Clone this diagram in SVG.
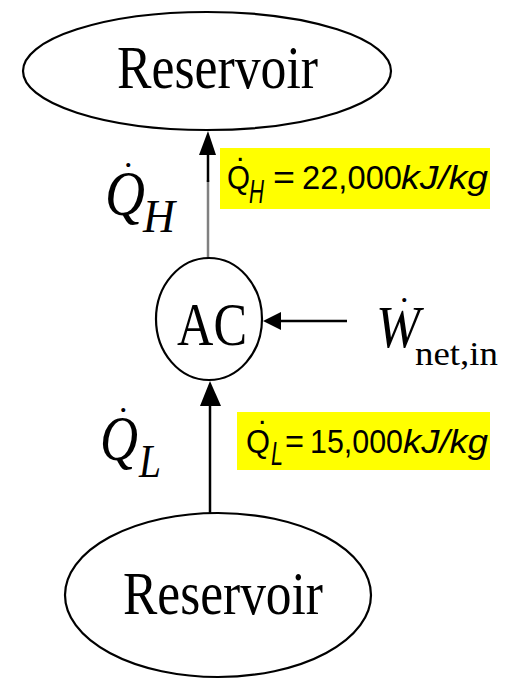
<svg xmlns="http://www.w3.org/2000/svg" width="507" height="679" viewBox="0 0 507 679">
<style>
.node{fill:#fff;stroke:#000;stroke-width:2.2}
.big{font-family:"Liberation Serif",serif;font-size:62px;fill:#000}
.it{font-family:"Liberation Serif",serif;font-style:italic;fill:#000}
.dot{font-family:"Liberation Serif",serif;font-size:34px;fill:#000}
.ar{font-family:"Liberation Sans",Arial,sans-serif;fill:#000;font-size:33px}
.ardot{font-family:"Liberation Sans",Arial,sans-serif;fill:#000;font-size:30px}
.hl{fill:#ffff00}
.ln{stroke:#000;stroke-width:2.5;fill:none}
</style>
<g id="connectors">
<line x1="208" y1="258" x2="208" y2="180" stroke="#808080" stroke-width="2.5"/>
<line x1="208" y1="182" x2="208" y2="152" class="ln"/>
<path d="M199,155 L208,131 L216,155 Z" fill="#000"/>
<line x1="210" y1="513" x2="210" y2="405" class="ln"/>
<path d="M200,406 L210,381 L221,406 Z" fill="#000"/>
<line x1="347" y1="321" x2="280" y2="321" class="ln"/>
<path d="M281,312 L263,321 L281,330 Z" fill="#000"/>
</g>
<g id="reservoir-top">
<ellipse cx="207" cy="71" rx="184" ry="59" class="node"/>
<text x="117" y="88" class="big" textLength="201" lengthAdjust="spacingAndGlyphs">Reservoir</text>
</g>
<g id="ac">
<ellipse cx="209" cy="319" rx="53" ry="61" class="node"/>
<text x="177" y="345" class="big" textLength="70" lengthAdjust="spacingAndGlyphs">AC</text>
</g>
<g id="reservoir-bottom">
<ellipse cx="218" cy="595" rx="153" ry="82" class="node"/>
<text x="123" y="614" class="big" textLength="200" lengthAdjust="spacingAndGlyphs">Reservoir</text>
</g>
<g id="label-qh">
<text x="105" y="215" class="it" font-size="64" textLength="40" lengthAdjust="spacingAndGlyphs">Q</text>
<text x="124" y="167" class="dot">.</text>
<text x="143" y="232" class="it" font-size="46" textLength="32" lengthAdjust="spacingAndGlyphs">H</text>
</g>
<g id="label-ql">
<text x="100" y="460" class="it" font-size="64" textLength="38" lengthAdjust="spacingAndGlyphs">Q</text>
<text x="119" y="412" class="dot">.</text>
<text x="139" y="477" class="it" font-size="46" textLength="22" lengthAdjust="spacingAndGlyphs">L</text>
</g>
<g id="label-w">
<text x="376" y="347" class="it" font-size="60" textLength="44" lengthAdjust="spacingAndGlyphs">W</text>
<text x="400" y="302" class="dot">.</text>
<text x="415" y="365" font-family="Liberation Serif,serif" font-size="34" textLength="83" lengthAdjust="spacingAndGlyphs">net,in</text>
</g>
<g id="value-qh">
<rect x="220" y="148" width="270" height="61" class="hl"/>
<text x="227" y="189" class="ar" textLength="23" lengthAdjust="spacingAndGlyphs">Q</text>
<text x="236" y="161" class="ardot">.</text>
<text x="249" y="203" class="ar" font-size="27" font-style="italic" textLength="15" lengthAdjust="spacingAndGlyphs">H</text>
<text x="273" y="189" class="ar" textLength="22" lengthAdjust="spacingAndGlyphs">=</text>
<text x="302" y="189" class="ar" textLength="100" lengthAdjust="spacingAndGlyphs">22,000</text>
<text x="401" y="189" class="ar" font-style="italic" textLength="87" lengthAdjust="spacingAndGlyphs">kJ/kg</text>
</g>
<g id="value-ql">
<rect x="237" y="412" width="253" height="58" class="hl"/>
<text x="246" y="453" class="ar" textLength="24" lengthAdjust="spacingAndGlyphs">Q</text>
<text x="258" y="424" class="ardot">.</text>
<text x="271" y="465" class="ar" font-size="27" font-style="italic" textLength="12" lengthAdjust="spacingAndGlyphs">L</text>
<text x="285" y="453" class="ar" textLength="19" lengthAdjust="spacingAndGlyphs">=</text>
<text x="310" y="453" class="ar" textLength="93" lengthAdjust="spacingAndGlyphs">15,000</text>
<text x="403" y="453" class="ar" font-style="italic" textLength="85" lengthAdjust="spacingAndGlyphs">kJ/kg</text>
</g>
</svg>
